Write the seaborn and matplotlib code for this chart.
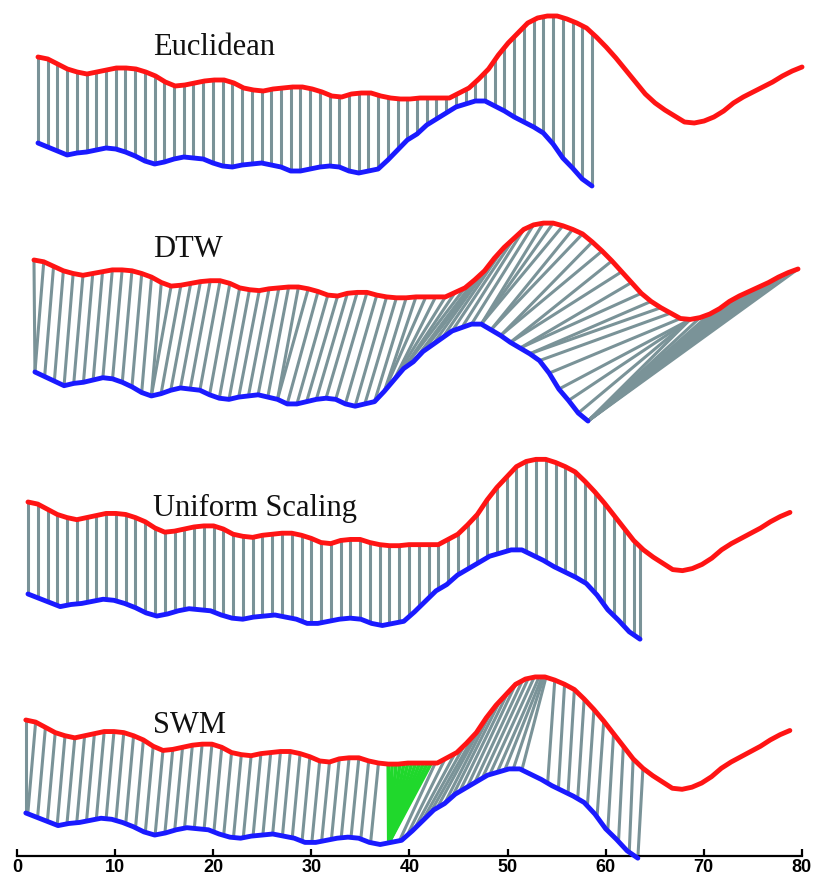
import numpy as np
import matplotlib
matplotlib.use("Agg")
import matplotlib.pyplot as plt
from matplotlib.collections import LineCollection
import seaborn as sns

# heights of the two series (pixel-like units)
red_h = [143, 141, 136, 131, 128, 126, 128, 130, 132, 132,
         131, 128, 124, 118, 114, 115, 117, 119, 120, 120,
         117, 112, 110, 109, 111, 112, 113, 113, 111, 108,
         104, 103, 106, 107, 107, 104, 102, 101, 101, 102,
         102, 102, 102, 107, 112, 121, 131, 145, 157, 167,
         177, 182, 184, 184, 181, 177, 172, 163, 153, 142,
         130, 118, 106, 97, 90, 84, 78, 77, 79, 83,
         89, 97, 103, 108, 113, 118, 124, 129, 133]
blue_h = [57, 53, 49, 45, 47, 48, 50, 52, 51, 48,
          44, 39, 36, 38, 41, 43, 42, 41, 37, 34,
          33, 35, 36, 37, 35, 33, 29, 29, 31, 33,
          34, 33, 29, 27, 29, 31, 40, 50, 60, 66,
          75, 81, 87, 93, 96, 99, 99, 94, 89, 83,
          78, 73, 67, 56, 42, 32, 21, 14]

titles = ["Euclidean", "DTW", "Uniform Scaling", "SWM"]
xticks = [0, 10, 20, 30, 40, 50, 60, 70, 80]

# DTW warping path as (red index, blue index) pairs
dtw_red_idx = list(range(53)) + [53, 54, 55, 56, 57, 58, 59, 60, 61, 62,
                                 63, 64, 65, 66, 67, 67, 67, 67,
                                 68, 69, 70, 71, 72, 73, 74, 75, 76, 77, 78]
dtw_blue_idx = [0, 0, 1, 2, 3, 4, 5, 6, 7, 8,
                9, 10, 11, 12, 12, 13, 14, 15, 16, 17,
                18, 19, 20, 21, 22, 23, 24, 25, 25, 26,
                27, 28, 29, 30, 31, 32, 33, 34, 35, 36,
                36, 37, 37, 38, 38, 39, 40, 41, 42, 43,
                44, 45, 46,
                46, 46, 47, 47, 48, 48, 49, 49, 50, 50,
                51, 51, 52, 53, 54, 55, 56, 57,
                57, 57, 57, 57, 57, 57, 57, 57, 57, 57, 57]

# SWM matching (fractional indices into the stretched blue / the red)
swm_lag = 0.8
swm_lag_end = 36
swm_green_apex = 33.8
swm_green_red = [37.0, 37.4, 37.8, 38.2, 38.6, 39.0, 39.4, 39.8, 40.2, 40.6, 41.0, 41.4]
swm_fan_blue = [34.8, 35.5, 36.2, 36.9, 37.6, 38.3, 39.0, 39.7, 40.4, 41.1,
                41.8, 42.5, 43.2, 43.9, 44.6, 45.4, 46.2]
swm_fan_red = [41.8, 42.8, 43.8, 44.8, 45.8, 46.8, 47.6, 48.4, 49.2, 50.0,
               50.7, 51.3, 51.9, 52.4, 52.7, 52.9, 53.1]
swm_tail_red = [54, 55, 56, 57, 58, 59, 60, 61, 62, 63]
swm_tail_blue = [48.6, 49.6, 50.5, 51.4, 52.3, 53.2, 54.2, 55.2, 56.2, 57.0]

# panel placement: (x start, x step), (pixel y of first point, vertical scale)
layout = {
    "Euclidean": dict(rx=(2.14, 0.9985), ry=(57, 1.0), bx=(2.14, 0.9907), by=(143, 1.0), ty=55),
    "DTW": dict(rx=(1.73, 0.9985), ry=(260, 0.9), bx=(1.83, 0.989), by=(372, 1.14), ty=257),
    "Uniform Scaling": dict(rx=(1.12, 0.9958), ry=(502, 1.04), bx=(1.12, 1.0945), by=(594, 1.05), ty=516),
    "SWM": dict(rx=(0.9, 0.9985), ry=(720, 1.05), bx=(0.9, 1.0945), by=(813, 1.05), ty=733),
}

RED = "#ff1414"
BLUE = "#1a1aff"
GRAY = "#7a9398"
GREEN = "#20d82c"

sns.set_theme(style="white")
plt.rcParams["font.family"] = ["Liberation Serif", "DejaVu Serif"]

fig = plt.figure(figsize=(8.16, 8.81), dpi=100)
ax = fig.add_axes([0, 0, 1, 1])


def curve(h, xpar, ypar):
    h = np.asarray(h, float)
    x = xpar[0] + xpar[1] * np.arange(len(h))
    y = -(ypar[0] + ypar[1] * (h[0] - h))
    return x, y


def at(x, y, idx):
    k = np.arange(len(x))
    return np.interp(idx, k, x), np.interp(idx, k, y)


for t in titles:
    L = layout[t]
    rx, ry = curve(red_h, L["rx"], L["ry"])
    bx, by = curve(blue_h, L["bx"], L["by"])
    segs = []
    green = []
    if t == "Euclidean":
        for j in range(len(bx)):
            segs.append([(bx[j], np.interp(bx[j], rx, ry)), (bx[j], by[j])])
    elif t == "DTW":
        for r, j in zip(dtw_red_idx, dtw_blue_idx):
            segs.append([(rx[r], ry[r]), (bx[j], by[j])])
    elif t == "Uniform Scaling":
        xs = list(rx[rx <= bx[-1]]) + [bx[-1]]
        for xv in xs:
            segs.append([(xv, np.interp(xv, rx, ry)), (xv, np.interp(xv, bx, by))])
    else:
        for r in range(swm_lag_end + 1):
            xb = max(rx[r] - swm_lag, bx[0])
            segs.append([(rx[r], ry[r]), (xb, np.interp(xb, bx, by))])
        for jb, rr in zip(swm_fan_blue, swm_fan_red):
            segs.append([at(rx, ry, rr), at(bx, by, jb)])
        for rr, jb in zip(swm_tail_red, swm_tail_blue):
            segs.append([at(rx, ry, rr), at(bx, by, jb)])
        apex = at(bx, by, swm_green_apex)
        for rr in swm_green_red:
            green.append([at(rx, ry, rr), apex])

    ax.add_collection(LineCollection(segs, colors=GRAY, linewidths=2.2,
                                     capstyle="butt", zorder=1))
    if green:
        ax.add_collection(LineCollection(green, colors=GREEN, linewidths=2.6,
                                         capstyle="butt", zorder=2))

    sns.lineplot(x=rx, y=ry, color=RED, linewidth=3.5, sort=False,
                 estimator=None, ax=ax, zorder=3, solid_capstyle="round",
                 solid_joinstyle="round")
    sns.lineplot(x=bx, y=by, color=BLUE, linewidth=3.5, sort=False,
                 estimator=None, ax=ax, zorder=3, solid_capstyle="round",
                 solid_joinstyle="round")

    ax.text(13.86, -L["ty"], t, fontsize=22, ha="left", va="baseline",
            family=["Liberation Serif", "DejaVu Serif"], color="#111111")

ax.set_xlim(-17 / 9.81, 799 / 9.81)
ax.set_ylim(-881, 0)
for side in ["left", "right", "top"]:
    ax.spines[side].set_visible(False)
ax.spines["bottom"].set_position(("data", -856))
ax.spines["bottom"].set_bounds(0, 80)
ax.spines["bottom"].set_linewidth(1.6)
ax.spines["bottom"].set_color("black")
ax.set_yticks([])
ax.set_xticks(xticks)
ax.set_xticklabels([str(v) for v in xticks])
ax.tick_params(axis="x", direction="in", length=5, width=1.6, pad=2,
               labelsize=13, colors="black", bottom=True)
for lab in ax.get_xticklabels():
    lab.set_fontfamily(["Liberation Sans Narrow", "Liberation Sans"])
    lab.set_fontweight("bold")
ax.set_xlabel("")
ax.set_ylabel("")
ax.patch.set_alpha(0)

fig.savefig("out.png", dpi=100, facecolor="white")
